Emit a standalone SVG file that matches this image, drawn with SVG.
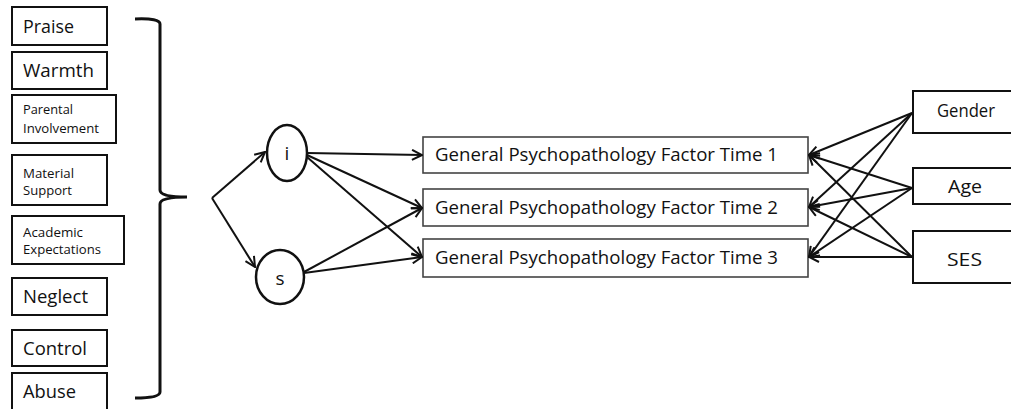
<svg xmlns="http://www.w3.org/2000/svg" width="1011" height="409" viewBox="0 0 1011 409">
  <style>
    .box { fill: #ffffff; stroke: #111111; stroke-width: 2; }
    .oval { fill: #ffffff; stroke: #111111; stroke-width: 2.5; }
    .fbox { fill: #ffffff; stroke: #444444; stroke-width: 1.6; }
    .lbl { font-family: "Open Sans", "Liberation Sans", sans-serif; fill: #111111; }
    .big { font-size: 19px; }
    .mid { font-size: 18.5px; }
    .small { font-size: 13px; }
    .edge { fill: none; stroke: #111111; stroke-width: 2; marker-end: url(#chev); }
    .brace { fill: none; stroke: #111111; stroke-width: 3; stroke-linejoin: round; }
  </style>
  <defs>
    <marker id="chev" viewBox="0 0 12 12" refX="11" refY="6" markerWidth="12" markerHeight="12" markerUnits="userSpaceOnUse" orient="auto">
      <path d="M1,1 L11,6 L1,11" fill="none" stroke="#111111" stroke-width="2"/>
    </marker>
  </defs>
  <rect width="1011" height="409" fill="#ffffff"/>

  <!-- parenting dimension boxes -->
  <g id="praise"><rect class="box" x="12" y="7" width="95" height="38"/><text class="lbl big" x="23" y="33" textLength="51" lengthAdjust="spacingAndGlyphs">Praise</text></g>
  <g id="warmth"><rect class="box" x="12" y="52" width="95" height="37"/><text class="lbl big" x="23" y="77" textLength="71" lengthAdjust="spacingAndGlyphs">Warmth</text></g>
  <g id="involvement"><rect class="box" x="12" y="95" width="104" height="48"/><text class="lbl small" x="23" y="114" textLength="50" lengthAdjust="spacingAndGlyphs">Parental</text><text class="lbl small" x="23" y="133" textLength="76" lengthAdjust="spacingAndGlyphs">Involvement</text></g>
  <g id="support"><rect class="box" x="12" y="155" width="95" height="50"/><text class="lbl small" x="23" y="178" textLength="51" lengthAdjust="spacingAndGlyphs">Material</text><text class="lbl small" x="23" y="195" textLength="49" lengthAdjust="spacingAndGlyphs">Support</text></g>
  <g id="expectations"><rect class="box" x="12" y="216" width="112" height="48"/><text class="lbl small" x="23" y="237" textLength="60" lengthAdjust="spacingAndGlyphs">Academic</text><text class="lbl small" x="23" y="254" textLength="78" lengthAdjust="spacingAndGlyphs">Expectations</text></g>
  <g id="neglect"><rect class="box" x="12" y="278" width="95" height="37"/><text class="lbl big" x="23" y="303" textLength="65" lengthAdjust="spacingAndGlyphs">Neglect</text></g>
  <g id="control"><rect class="box" x="12" y="330" width="95" height="36"/><text class="lbl big" x="23" y="355" textLength="64" lengthAdjust="spacingAndGlyphs">Control</text></g>
  <g id="abuse"><rect class="box" x="12" y="373" width="95" height="40"/><text class="lbl big" x="23" y="398" textLength="53" lengthAdjust="spacingAndGlyphs">Abuse</text></g>

  <!-- brace grouping the dimensions -->
  <g id="brace">
    <path class="brace" d="M135,19 Q160,18 160,24 L160,190 Q160,197 187,197 M160,204 Q160,197 187,197 M160,204 L160,392 Q160,398 135,398"/>
  </g>

  <!-- growth factors -->
  <g id="intercept"><ellipse class="oval" cx="287" cy="153" rx="20" ry="28"/><text class="lbl big" x="287" y="160" text-anchor="middle">i</text></g>
  <g id="slope"><ellipse class="oval" cx="280" cy="277" rx="24" ry="27"/><text class="lbl big" x="280" y="285" text-anchor="middle">s</text></g>

  <!-- outcome boxes -->
  <g id="time1"><rect class="fbox" x="423" y="137" width="385" height="36"/><text class="lbl mid" x="435" y="161" textLength="343" lengthAdjust="spacingAndGlyphs">General Psychopathology Factor Time 1</text></g>
  <g id="time2"><rect class="fbox" x="423" y="189" width="385" height="37"/><text class="lbl mid" x="435" y="214" textLength="343" lengthAdjust="spacingAndGlyphs">General Psychopathology Factor Time 2</text></g>
  <g id="time3"><rect class="fbox" x="423" y="239" width="385" height="38"/><text class="lbl mid" x="435" y="264" textLength="343" lengthAdjust="spacingAndGlyphs">General Psychopathology Factor Time 3</text></g>

  <!-- covariates -->
  <g id="gender"><rect class="box" x="913" y="91" width="110" height="42"/><text class="lbl mid" x="937" y="117" textLength="58" lengthAdjust="spacingAndGlyphs">Gender</text></g>
  <g id="age"><rect class="box" x="913" y="168" width="110" height="36"/><text class="lbl big" x="948" y="193" textLength="34" lengthAdjust="spacingAndGlyphs">Age</text></g>
  <g id="ses"><rect class="box" x="913" y="231" width="110" height="52"/><text class="lbl big" x="947" y="266" textLength="35" lengthAdjust="spacingAndGlyphs">SES</text></g>

  <!-- connectors -->
  <g id="connectors">
    <path class="edge" d="M212,198 L265,152"/>
    <path class="edge" d="M212,198 L255,267"/>
    <path class="edge" d="M307,153 L422,155"/>
    <path class="edge" d="M307,155 L422,208"/>
    <path class="edge" d="M307,157 L422,257"/>
    <path class="edge" d="M304,272 L422,208"/>
    <path class="edge" d="M304,273 L422,257"/>
    <path class="edge" d="M912,113 L809,155"/>
    <path class="edge" d="M912,113 L809,207"/>
    <path class="edge" d="M912,113 L809,257"/>
    <path class="edge" d="M912,188 L809,155"/>
    <path class="edge" d="M912,188 L809,207"/>
    <path class="edge" d="M912,188 L809,257"/>
    <path class="edge" d="M912,257 L809,155"/>
    <path class="edge" d="M912,257 L809,207"/>
    <path class="edge" d="M912,257 L809,257"/>
  </g>
</svg>
